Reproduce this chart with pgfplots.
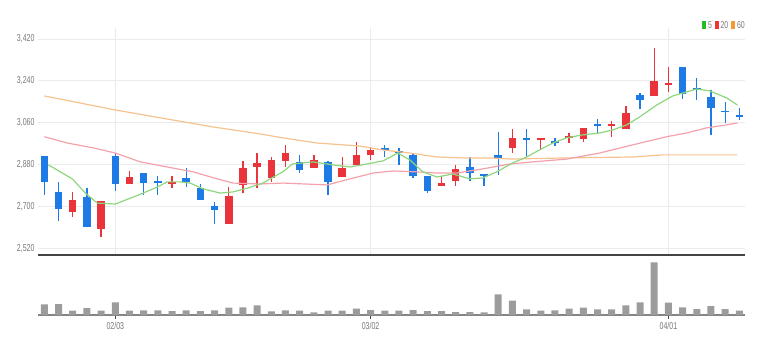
\documentclass[border=0pt]{standalone}
\usepackage{pgfplots}
\pgfplotsset{compat=1.18}
\usepackage{pgfplotstable}
\usepackage{fontspec}
\setmainfont{Liberation Sans}
\newfontfamily\tf[FakeStretch=0.7]{Liberation Sans}
\definecolor{upc}{HTML}{E8343A}
\definecolor{dnc}{HTML}{1E7BE6}
\definecolor{ma5}{HTML}{8ED67E}
\definecolor{ma20}{HTML}{F3A2AB}
\definecolor{ma60}{HTML}{F6C28E}
\definecolor{gridc}{HTML}{EBEBEB}
\definecolor{lbl}{HTML}{777777}
\definecolor{darkline}{HTML}{444444}
\definecolor{volc}{HTML}{9C9C9C}
\definecolor{leg5}{HTML}{22BB22}
\definecolor{leg20}{HTML}{EE3333}
\definecolor{leg60}{HTML}{F59A30}

% up (red) candles: index open high low close
\pgfplotstableread{
i o h l c
2 2675 2764 2657 2728
4 2602 2723 2571 2723
6 2797 2854 2797 2828
9 2797 2833 2779 2807
13 2625 2783 2625 2746
14 2793 2897 2757 2864
15 2869 2932 2779 2886
16 2823 2913 2807 2900
17 2897 2965 2871 2932
19 2867 2922 2867 2900
21 2826 2914 2826 2864
22 2879 2976 2879 2922
23 2922 2957 2900 2943
28 2788 2831 2788 2800
29 2810 2879 2788 2860
33 2953 3032 2932 2993
35 2986 2993 2946 2993
37 2993 3015 2972 3003
38 2989 3039 2979 3039
40 3049 3069 3000 3055
41 3033 3132 3033 3101
43 3175 3380 3175 3241
44 3222 3301 3194 3230
}\upT

% down (blue) candles
\pgfplotstableread{
i o h l c
0 2917 2917 2750 2806
1 2764 2807 2638 2688
3 2743 2780 2612 2614
5 2917 2929 2767 2796
7 2843 2845 2750 2800
8 2811 2833 2750 2800
10 2822 2864 2785 2807
11 2779 2796 2728 2728
12 2704 2721 2624 2685
18 2893 2922 2843 2857
20 2893 2897 2750 2804
24 2950 2965 2914 2943
25 2939 2950 2879 2932
26 2922 2925 2822 2831
27 2831 2833 2757 2767
30 2871 2914 2811 2846
31 2840 2840 2788 2831
32 2922 3019 2836 2903
34 2993 3032 2912 2986
36 2982 2996 2960 2975
39 3053 3075 3015 3046
42 3179 3189 3118 3158
45 3301 3301 3161 3184
46 3211 3251 3158 3201
47 3172 3201 3008 3122
48 3111 3151 3058 3106
49 3093 3122 3072 3084
}\dnT

% volume (relative units)
\pgfplotstableread{
i v
0 10.7
1 11
2 4.3
3 7
4 4.3
5 12.7
6 4.3
7 4.7
8 4.7
9 4
10 4.7
11 4
12 4.7
13 7.3
14 7.7
15 9.7
16 3.7
17 4.7
18 4.3
19 2.7
20 4.3
21 4.3
22 6.3
23 5
24 4.3
25 4.3
26 5
27 4
28 4
29 3
30 3
31 2.7
32 20.7
33 14.3
34 5.7
35 4.3
36 4.7
37 6.3
38 7.3
39 5.7
40 5.7
41 9.7
42 12.7
43 52.7
44 12.3
45 7.7
46 6
47 9
48 6
49 4.3
}\volT

\pgfplotsset{
  candle/.style 2 args={only marks, mark=text, text mark={}, forget plot,
    error bars/.cd, y dir=both, y explicit, error mark=none,
    error bar style={line width=#2, draw=#1}},
}

\begin{document}
\begin{tikzpicture}
\useasboundingbox (0,0) rectangle (762pt,354pt);

\begin{axis}[
  at={(38pt,99pt)}, anchor=south west,
  scale only axis, width=707pt, height=227pt,
  xmin=-0.45, xmax=49.4, ymin=2492, ymax=3467,
  axis lines*=left,
  x axis line style={line width=2pt, draw=darkline},
  y axis line style={draw=none},
  tick style={draw=none}, major tick length=0pt,
  xtick={5,23,44}, xticklabels={},
  ytick={2520,2700,2880,3060,3240,3420},
  grid=major, major grid style={gridc, line width=0.8pt},
  /pgf/number format/assume math mode=true,
  /pgf/number format/1000 sep={,},
  yticklabel style={font=\tf\fontsize{10}{10}\selectfont, text=lbl},
  clip=false,
]
% wicks
\addplot[candle={upc}{1.3pt}]
  table[x=i, y expr={(\thisrow{h}+\thisrow{l})/2}, y error expr={(\thisrow{h}-\thisrow{l})/2}] {\upT};
\addplot[candle={dnc}{1.3pt}]
  table[x=i, y expr={(\thisrow{h}+\thisrow{l})/2}, y error expr={(\thisrow{h}-\thisrow{l})/2}] {\dnT};
% bodies
\addplot[candle={upc}{7.5pt}]
  table[x=i, y expr={(\thisrow{o}+\thisrow{c})/2}, y error expr={max(abs(\thisrow{o}-\thisrow{c})/2,4)}] {\upT};
\addplot[candle={dnc}{7.5pt}]
  table[x=i, y expr={(\thisrow{o}+\thisrow{c})/2}, y error expr={max(abs(\thisrow{o}-\thisrow{c})/2,4)}] {\dnT};
% MA 60
\addplot[ma60, line width=1.2pt, mark=none] coordinates {
(0,3175) (5,3115) (8.66,3076) (11.9,3042) (15.2,3012) (16.83,2995) (19.23,2973)
(22.25,2960) (23.87,2943) (25.77,2930) (27.68,2913) (29.5,2909) (31.4,2909)
(32.82,2904) (36.83,2909) (41.48,2913) (43.6,2922) (46.2,2922) (48.87,2922)};
% MA 20
\addplot[ma20, line width=1.2pt, mark=none] coordinates {
(0,3000) (1.62,2973) (3.45,2952) (5,2930) (6.76,2892) (8.66,2870) (10.5,2849)
(12.18,2819) (13.3,2801) (15.2,2797) (16.83,2801) (19.93,2793) (21.55,2819)
(23.17,2844) (24.58,2853) (26.27,2849) (27.68,2844) (29.08,2844) (30.92,2862)
(32.82,2883) (34.44,2892) (36.83,2904) (39.15,2930) (41.48,2965) (43.87,3000)
(45.28,3016) (46.69,3038) (48.1,3051) (48.87,3059)};
% MA 5
\addplot[ma5, line width=1.2pt, mark=none] coordinates {
(0.28,2879) (1.97,2819) (2.89,2758) (3.73,2715) (5,2711) (6.27,2741) (6.97,2758)
(7.96,2784) (8.66,2806) (9.58,2806) (10.28,2801) (11.2,2776) (12.4,2758)
(13.3,2763) (14.37,2780) (15.4,2801) (16.8,2849) (17.5,2883) (18.94,2892)
(20.35,2879) (21.55,2870) (22.75,2883) (23.87,2896) (24.93,2930) (25.77,2900)
(26.69,2849) (27.68,2827) (28.8,2840) (30,2819) (30.9,2823) (31.9,2849)
(33,2887) (34,2913) (34.9,2943) (35.85,2973) (36.8,2995) (37.96,3008)
(39.15,3016) (40.07,3029) (41.06,3051) (41.97,3085) (43.17,3136) (44.3,3175)
(45.28,3192) (45.99,3205) (46.9,3197) (48.1,3167) (48.87,3136)};
\end{axis}

\begin{axis}[
  at={(38pt,39pt)}, anchor=south west,
  scale only axis, width=707pt, height=57pt,
  xmin=-0.45, xmax=49.4, ymin=0, ymax=57,
  axis x line*=bottom, axis y line=none,
  x axis line style={line width=1.8pt, draw=volc!85!black},
  xtick={5,23,44}, xticklabels={02/03,03/02,04/01},
  xtick style={draw=darkline, line width=0.8pt},
  major tick length=4pt, tick align=outside,
  xticklabel style={font=\tf\fontsize{10}{10}\selectfont, text=lbl},
  ymajorticks=false,
]
\addplot[ybar, bar width=7pt, fill=volc, draw=none] table[x=i, y=v] {\volT};
\end{axis}

\node[anchor=east, inner sep=0pt, font=\tf\fontsize{10}{10}\selectfont, text=lbl] at (745pt,329pt)
  {\textcolor{leg5}{\rule{4pt}{8pt}}\,5\hspace{3pt}\textcolor{leg20}{\rule{4pt}{8pt}}\,20\hspace{3pt}\textcolor{leg60}{\rule{4pt}{8pt}}\,60};
\end{tikzpicture}
\end{document}
